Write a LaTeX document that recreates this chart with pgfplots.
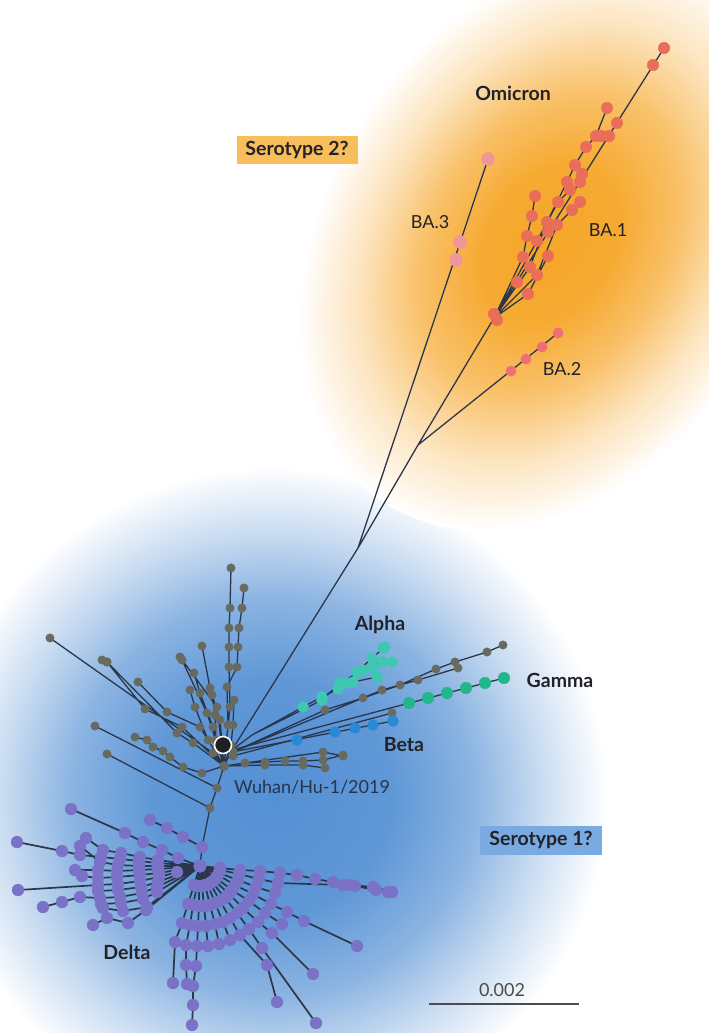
\documentclass[border=0pt]{standalone}
\usepackage{pgfplots}
\pgfplotsset{compat=1.18}
\usepackage{fontspec}
\setmainfont{Lato}

\definecolor{edge}{RGB}{44,54,74}
\definecolor{deltac}{RGB}{122,114,198}
\definecolor{grayc}{RGB}{104,106,96}
\definecolor{alphac}{RGB}{62,200,178}
\definecolor{gammac}{RGB}{34,182,138}
\definecolor{betac}{RGB}{40,138,212}
\definecolor{ba1c}{RGB}{232,110,90}
\definecolor{ba2c}{RGB}{238,112,118}
\definecolor{ba3c}{RGB}{240,150,152}
\definecolor{blueglow}{RGB}{84,144,212}
\definecolor{orangeglow}{RGB}{246,166,40}
\definecolor{sero1}{RGB}{122,170,226}
\definecolor{sero2}{RGB}{249,190,92}
\definecolor{labeltext}{RGB}{34,34,40}
\definecolor{wuhantext}{RGB}{38,52,78}

% radial halos: full colour in the core, white at the rim of the shaded path
\pgfdeclareradialshading{bluehalo}{\pgfpointorigin}{%
  color(0bp)=(blueglow);
  color(9bp)=(blueglow!93!white);
  color(15bp)=(blueglow!68!white);
  color(20bp)=(blueglow!32!white);
  color(25bp)=(white);
  color(50bp)=(white)}
\pgfdeclareradialshading{orangehalo}{\pgfpointorigin}{%
  color(0bp)=(orangeglow);
  color(7bp)=(orangeglow!95!white);
  color(13bp)=(orangeglow!70!white);
  color(19bp)=(orangeglow!30!white);
  color(25bp)=(white);
  color(50bp)=(white)}

\newcommand\lbl{\fontsize{18}{21}\selectfont}
\newcommand\lblb{\fontsize{19.5}{22}\selectfont\bfseries}

\pgfplotsset{
  edges/.style={draw=edge, line width=1.3pt, no markers},
  dots/.style={only marks, mark=*, mark size=#1},
}

\begin{document}
\begin{tikzpicture}
\useasboundingbox (0,0) rectangle (709pt,1033pt);

% halos behind the two serotype groups
\begin{scope}[overlay, transform canvas={shift={(272pt,236pt)}}]
  \shade[shading=bluehalo] (0,0) ellipse [x radius=335pt, y radius=330pt];
\end{scope}
\begin{scope}[overlay, transform canvas={shift={(550pt,790pt)}, rotate=58}]
  \shade[shading=orangehalo] (0,0) ellipse [x radius=308pt, y radius=226pt];
\end{scope}

\begin{axis}[at={(0pt,0pt)}, anchor=south west, scale only axis,
  width=709pt, height=1033pt, xmin=0, xmax=709, ymin=0, ymax=1033,
  y dir=reverse, hide axis, clip=false, unbounded coords=jump]

% Delta
\addplot[draw=edge, line width=1.7pt, mark=*, mark size=6,
  mark options={fill=deltac, draw=deltac, line width=0.2pt}] coordinates {
(200,866) (158,860) (140,857) (121,853) (103,850) (86,838) (nan,nan)
(200,866) (157,863) (139,861) (120,859) (101,857) (80,855) (62,851) (17,842) (nan,nan)
(200,866) (158,866) (139,866) (118,865) (100,862) (80,846) (nan,nan)
(200,866) (158,869) (139,870) (117,871) (98,870) (75,870) (nan,nan)
(200,866) (159,873) (140,875) (117,877) (98,878) (82,876) (nan,nan)
(200,866) (159,877) (140,881) (118,884) (98,885) (18,890) (nan,nan)
(200,866) (158,882) (141,887) (118,890) (98,891) (nan,nan)
(200,866) (157,887) (142,893) (120,897) (100,898) (80,897) (62,902) (43,907) (nan,nan)
(200,866) (157,892) (143,899) (121,903) (101,904) (nan,nan)
(200,866) (147,907) (123,911) (103,908) (nan,nan)
(200,866) (146,910) (128,923) (107,918) (93,925) (nan,nan)
(200,866) (178,858) (162,850) (143,842) (125,833) (71,809) (nan,nan)
(202,847) (183,837) (167,828) (150,820) (nan,nan)
(200,866) (177,872) (nan,nan)
(200,866) (220,868) (240,870) (260,871) (280,873) (297,875) (315,879) (333,882) (350,885) (373,887) (392,892) (nan,nan)
(200,866) (220,870) (239,874) (259,879) (278,883) (343,885) (355,886) (376,890) (388,892) (nan,nan)
(200,866) (219,873) (238,880) (256,887) (275,893) (nan,nan)
(200,866) (218,875) (235,885) (253,894) (271,904) (287,912) (304,921) (357,946) (nan,nan)
(200,866) (216,878) (232,890) (249,901) (265,913) (282,924) (nan,nan)
(200,866) (214,880) (229,894) (243,908) (258,922) (272,933) (313,974) (nan,nan)
(200,866) (212,882) (225,898) (237,913) (249,929) (262,948) (316,1023) (nan,nan)
(200,866) (210,883) (220,901) (230,918) (240,935) (267,965) (277,1002) (nan,nan)
(200,866) (208,885) (215,903) (223,922) (230,940) (nan,nan)
(200,866) (205,885) (210,905) (215,924) (219,944) (nan,nan)
(200,866) (202,886) (204,906) (206,926) (208,946) (nan,nan)
(200,866) (199,886) (199,906) (198,926) (197,946) (196,966) (193,986) (193,1005) (192,1025) (nan,nan)
(200,866) (197,886) (193,905) (190,925) (186,945) (186,965) (187,984) (nan,nan)
(200,866) (194,885) (188,904) (182,923) (175,942) (173,983)
};

% trunk from Delta to the root
\addplot[edges] coordinates {(200,866) (202,847) (210,808) (217,788) (224,766) (232,750)};

% ancestral lineages
\addplot[draw=edge, line width=1.3pt, mark=*, mark size=4.3,
  mark options={fill=grayc, draw=grayc, line width=0.2pt}] coordinates {
(224,766) (230,707) (229,667) (229,647) (229,628) (230,608) (231,568) (nan,nan)
(224,766) (228,725) (227,687) (237,667) (238,647) (239,628) (242,608) (244,588) (nan,nan)
(224,766) (220,720) (210,688) (202,646) (nan,nan)
(224,766) (213,727) (200,693) (194,673) (nan,nan)
(224,766) (207,713) (182,660) (nan,nan)
(224,766) (217,707) (180,657) (nan,nan)
(224,766) (208,740) (195,707) (190,690) (nan,nan)
(224,766) (216,740) (215,715) (212,695) (nan,nan)
(224,766) (231,745) (233,725) (234,700) (nan,nan)
(224,766) (200,727) (167,712) (138,682) (nan,nan)
(224,766) (182,727) (145,709) (107,662) (102,660) (nan,nan)
(224,766) (213,753) (50,638) (nan,nan)
(224,766) (193,743) (177,733) (107,662) (nan,nan)
(224,766) (202,773) (183,767) (170,757) (163,751) (153,747) (147,740) (135,737) (nan,nan)
(217,788) (95,726) (nan,nan)
(210,808) (107,754) (nan,nan)
(224,766) (245,763) (265,762) (285,761) (303,761) (323,760) (343,755) (nan,nan)
(224,766) (265,765) (303,765) (325,768) (nan,nan)
(224,766) (323,752) (343,756) (nan,nan)
(233,752) (325,710) (363,698) (400,685) (436,669) (455,662) (487,652) (503,645) (nan,nan)
(233,752) (382,690) (418,680) (458,668) (nan,nan)
(233,756) (392,713)
};

% Beta, Gamma, Alpha
\addplot[edges] coordinates {(232,752) (393,721)};
\addplot[dots=5.5, color=betac] coordinates {(297,740) (335,732) (355,728) (373,725) (393,721)};
\addplot[edges] coordinates {(232,750) (504,678)};
\addplot[dots=5.8, color=gammac] coordinates {(409,703) (428,698) (447,693) (466,688) (485,683) (504,678)};
\addplot[edges] coordinates {
(232,750) (252,735) (303,707) (322,697) (338,689) (357,672) (372,658) (385,647) (nan,nan)
(252,735) (322,700) (340,683) (363,670) (382,662) (392,662) (nan,nan)
(322,697) (347,683) (353,682) (377,677) (nan,nan)
(357,672) (373,668)};
\addplot[dots=5.5, color=alphac] coordinates {
(303,707) (322,697) (322,700) (338,689) (340,683) (347,683) (353,682) (357,672)
(363,670) (372,658) (373,668) (377,677) (382,662) (392,662) (383,648) (385,647)};

% Omicron
\addplot[edges] coordinates {
(232,750) (358,548) (418,445) (494,318) (664,48) (nan,nan)
(358,548) (488,159) (nan,nan)
(418,445) (558,333) (nan,nan)
(494,318) (523,257) (527,236) (532,216) (535,196) (nan,nan)
(494,318) (528,294) (548,256) (nan,nan)
(494,318) (537,275) (557,225) (572,210) (580,202) (nan,nan)
(494,318) (530,267) (547,222) (567,182) (575,165) (586,147) (596,136) (607,108) (nan,nan)
(494,318) (537,241) (558,202) (570,190)};
\addplot[dots=5.8, color=ba1c] coordinates {
(494,314) (497,320) (517,282) (528,294) (537,275) (530,267) (548,256) (523,257)
(537,241) (527,236) (532,216) (535,196) (547,222) (557,225) (558,202) (572,210)
(580,202) (570,190) (567,182) (575,165) (582,174) (586,147) (596,136) (601,136)
(607,108) (617,123) (609,136) (580,182) (548,232) (653,65) (664,48)};
\addplot[dots=5.2, color=ba2c] coordinates {(511,371) (526,359) (542,347) (558,333)};
\addplot[dots=6.5, color=ba3c] coordinates {(456,260) (460,242) (488,159)};

% reference genome
\addplot[only marks, mark=*, mark size=8.5,
  mark options={fill=black!88, draw=white!92!gray, line width=1.6pt}] coordinates {(223,745)};

% scale bar
\addplot[draw=black!70, line width=1.2pt] coordinates {(429,1004) (579,1004)};
\node[font=\lbl, text=black!70] at (axis cs:502,990) {0.002};

% labels
\node[font=\lblb, text=labeltext] at (axis cs:513,93) {Omicron};
\node[font=\lbl, text=labeltext] at (axis cs:430,222) {BA.3};
\node[font=\lbl, text=labeltext] at (axis cs:608,230) {BA.1};
\node[font=\lbl, text=labeltext] at (axis cs:562,369) {BA.2};
\node[font=\lblb, text=labeltext] at (axis cs:380,625) {Alpha};
\node[font=\lblb, text=labeltext] at (axis cs:560,680) {Gamma};
\node[font=\lblb, text=labeltext] at (axis cs:404,745) {Beta};
\node[font=\lbl, text=wuhantext] at (axis cs:312,787) {Wuhan/Hu-1/2019};
\node[font=\lblb, text=labeltext] at (axis cs:127,952) {Delta};
\node[font=\lblb, text=labeltext, fill=sero2, minimum width=121pt, minimum height=28pt, inner sep=0pt]
  at (axis cs:297,150) {Serotype 2?};
\node[font=\lblb, text=labeltext, fill=sero1, minimum width=122pt, minimum height=29pt, inner sep=0pt]
  at (axis cs:541,840) {Serotype 1?};
\end{axis}
\end{tikzpicture}
\end{document}
